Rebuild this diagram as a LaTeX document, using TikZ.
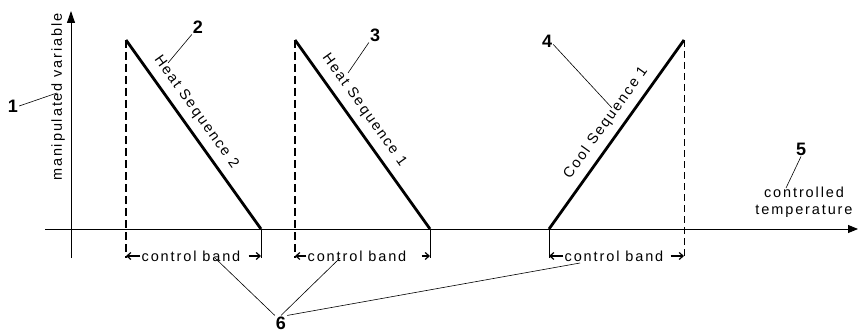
\documentclass[tikz,border=0pt]{standalone}
\usepackage{fontspec}
\setmainfont{Liberation Sans}
\newfontfamily\lsfont[LetterSpace=13]{Liberation Sans}
\usetikzlibrary{arrows.meta}
\begin{document}
\begin{tikzpicture}[x=1pt,y=-1pt,
  axis/.style={line width=0.9pt},
  seq/.style={line width=2.8pt},
  dashthick/.style={line width=1.7pt, dash pattern=on 8pt off 4pt},
  dashthin/.style={line width=0.9pt, dash pattern=on 7pt off 4pt},
  thinline/.style={line width=0.9pt},
  leader/.style={line width=0.6pt},
  num/.style={font=\fontsize{18}{18}\selectfont\bfseries, inner sep=1pt},
  lbl/.style={font=\fontsize{14.5}{17.5}\selectfont\lsfont, inner sep=1pt},
  dimarrow/.style={line width=1.2pt, -{Straight Barb[length=4pt,width=7pt]}},
]
\useasboundingbox (0,0) rectangle (858,334);
% axes
\coordinate (yb) at (71,258);
\coordinate (yt) at (71,11);
\coordinate (xl) at (45,229);
\coordinate (xr) at (858,229);
\draw[axis, -{Triangle[length=12pt,width=8pt]}] (yb) -- (yt);
\draw[axis, -{Triangle[length=10pt,width=8pt]}] (xl) -- (xr);
\node[lbl, rotate=90] (mv) at (58,97) {manipulated variable};
\node[lbl, align=center] (ct) at (804,202) {controlled\\temperature};

% heat sequence 2
\coordinate (h2t) at (126,40);
\coordinate (h2b) at (126,258);
\coordinate (h2e) at (261,229);
\coordinate (h2eb) at (261,258);
\draw[dashthick] (h2t) -- (h2b);
\draw[seq] (h2t) -- (h2e);
\draw[thinline] (h2e) -- (h2eb);
\node[lbl, rotate=-54.5] (t2) at (196,112) {Heat Sequence 2};

% heat sequence 1
\coordinate (h1t) at (295,40);
\coordinate (h1b) at (295,258);
\coordinate (h1e) at (430,229);
\coordinate (h1eb) at (430,258);
\draw[dashthick] (h1t) -- (h1b);
\draw[seq] (h1t) -- (h1e);
\draw[thinline] (h1e) -- (h1eb);
\node[lbl, rotate=-54.5] (t1) at (364,110) {Heat Sequence 1};

% cool sequence 1
\coordinate (c1s) at (549,229);
\coordinate (c1sb) at (549,258);
\coordinate (c1t) at (684,40);
\coordinate (c1b) at (684,258);
\draw[dashthin] (c1t) -- (c1b);
\draw[seq] (c1s) -- (c1t);
\draw[thinline] (c1s) -- (c1sb);
\node[lbl, rotate=54.5] (tc) at (606,123) {Cool Sequence 1};

% control bands
\node[lbl] (cb1) at (191,256) {control band};
\node[lbl] (cb2) at (357,256) {control band};
\node[lbl] (cb3) at (614,256) {control band};
\draw[dimarrow] (cb1.west) -- (cb1.west -| h2b);
\draw[dimarrow] ([xshift=7pt]cb1.east) -- (cb1.east -| h2eb);
\draw[dimarrow] (cb2.west) -- (cb2.west -| h1b);
\draw[dimarrow] ([xshift=14pt]cb2.east) -- (cb2.east -| h1eb);
\draw[dimarrow] (cb3.west) -- (cb3.west -| c1sb);
\draw[dimarrow] ([xshift=6pt]cb3.east) -- (cb3.east -| c1b);

% numbered labels
\node[num] (n1) at (13,106) {1};
\node[num] (n2) at (198,27) {2};
\node[num] (n3) at (375,35) {3};
\node[num] (n4) at (547,41) {4};
\node[num] (n5) at (801,149) {5};
\node[num] (n6) at (281,323) {6};
\coordinate (l1) at (57,93);
\coordinate (l2) at (168,63);
\coordinate (l3) at (348,73);
\coordinate (l4) at (612,108);
\coordinate (l5) at (786,188);
\coordinate (l6a) at (215,258);
\coordinate (l6b) at (340,258);
\coordinate (l6c) at (580,263);
\draw[leader] (n1.east) -- (l1);
\draw[leader] (n2.south west) -- (l2);
\draw[leader] (n3.south west) -- (l3);
\draw[leader] ([yshift=4pt]n4.south east) -- (l4);
\draw[leader] (n5.south) -- (l5);
\draw[leader] (n6.north west) -- (l6a);
\draw[leader] (n6.north) -- (l6b);
\draw[leader] (n6.north east) -- (l6c);
\end{tikzpicture}
\end{document}
